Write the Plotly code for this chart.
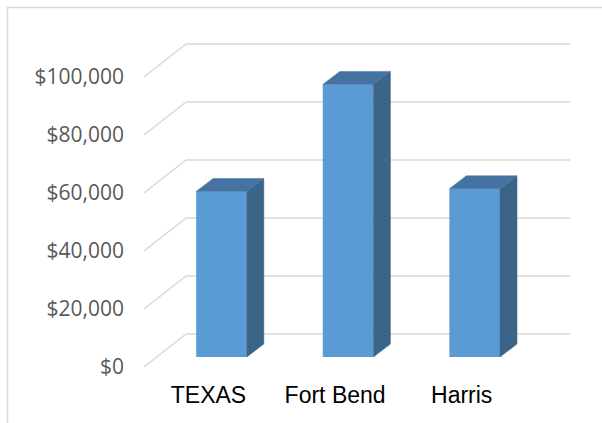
import plotly.graph_objects as go

# ---- data ----
categories = ["TEXAS", "Fort Bend", "Harris"]
values = [57100, 94000, 58000]
tick_values = [0, 20000, 40000, 60000, 80000, 100000]
tick_labels = ["$0", "$20,000", "$40,000", "$60,000", "$80,000", "$100,000"]

# ---- geometry (3D look) ----
W, H = 602, 423
PX_PER_UNIT_Y = 2.90 / 1000.0     # pixels per dollar on the front plane
PX_PER_CAT = 126.6                # pixels per category step
X0_PX = 221.5                     # pixel of category 0 (bar front-face centre)
Y0_PX = 367.0                     # pixel of $0 on the front plane

def dx(px):
    return px / PX_PER_CAT

def dy(px):
    return px / PX_PER_UNIT_Y

x_left_px, x_right_px = 144, 572
y_top_px, y_bot_px = 4.5, 380
x_range = [(x_left_px - X0_PX) / PX_PER_CAT, (x_right_px - X0_PX) / PX_PER_CAT]
y_range = [(Y0_PX - y_bot_px) / PX_PER_UNIT_Y, (Y0_PX - y_top_px) / PX_PER_UNIT_Y]

FULL_DX, FULL_DY = dx(42), dy(33)      # wall depth
FRONT_DX, FRONT_DY = dx(13), dy(10)    # offset of bar front face from front plane
BAR_DX, BAR_DY = dx(17), dy(13)        # bar depth
BAR_W = 0.4
BACK_RIGHT = (570 - X0_PX) / PX_PER_CAT
FRONT_LEFT = x_range[0]

grid_color = "#D9D9D9"
front_col = "#5B9BD5"
top_col = "#4473A1"
side_col = "#3B6489"

fig = go.Figure()

# front faces
fig.add_trace(go.Bar(
    x=list(range(len(categories))), y=values, base=FRONT_DY, width=BAR_W,
    marker=dict(color=front_col, line=dict(width=0)), hoverinfo="skip",
    showlegend=False))

# side and top faces
for i, v in enumerate(values):
    xl, xr = i - BAR_W / 2, i + BAR_W / 2
    yb, yt = FRONT_DY, FRONT_DY + v
    fig.add_trace(go.Scatter(
        x=[xr, xr + BAR_DX, xr + BAR_DX, xr, xr],
        y=[yb, yb + BAR_DY, yt + BAR_DY, yt, yb],
        fill="toself", fillcolor=side_col, mode="lines",
        line=dict(width=0.5, color=side_col), hoverinfo="skip", showlegend=False))
    fig.add_trace(go.Scatter(
        x=[xl, xr, xr + BAR_DX, xl + BAR_DX, xl],
        y=[yt, yt, yt + BAR_DY, yt + BAR_DY, yt],
        fill="toself", fillcolor=top_col, mode="lines",
        line=dict(width=0.5, color=top_col), hoverinfo="skip", showlegend=False))

shapes = []
for t in tick_values:
    # side wall diagonal
    shapes.append(dict(type="line", xref="x", yref="y", layer="below",
                       x0=FRONT_LEFT, y0=t, x1=FRONT_LEFT + FULL_DX, y1=t + FULL_DY,
                       line=dict(color=grid_color, width=1.5)))
    # back wall horizontal
    shapes.append(dict(type="line", xref="x", yref="y", layer="below",
                       x0=FRONT_LEFT + FULL_DX, y0=t + FULL_DY, x1=BACK_RIGHT, y1=t + FULL_DY,
                       line=dict(color=grid_color, width=1.5)))
# chart area border
shapes.append(dict(type="rect", xref="paper", yref="paper", layer="below",
                   x0=7.5 / W, x1=1.2, y0=-0.2, y1=(H - 7.5) / H,
                   line=dict(color=grid_color, width=1.5)))

fig.update_layout(
    width=W, height=H,
    margin=dict(l=0, r=0, t=0, b=0),
    paper_bgcolor="white", plot_bgcolor="rgba(0,0,0,0)",
    shapes=shapes, showlegend=False,
    xaxis=dict(domain=[x_left_px / W, x_right_px / W], range=x_range,
               tickvals=[i - FRONT_DX for i in range(len(categories))],
               ticktext=categories, showgrid=False, zeroline=False,
               showline=False, ticks="", ticklabelstandoff=-1,
               tickfont=dict(family="Liberation Sans, Arial", size=23, color="black"),
               fixedrange=True),
    yaxis=dict(domain=[(H - y_bot_px) / H, (H - y_top_px) / H], range=y_range,
               tickvals=tick_values, ticktext=tick_labels,
               showgrid=False, zeroline=False, showline=False, ticks="",
               ticklabelstandoff=19,
               tickfont=dict(family="Open Sans", size=21, color="#595959"),
               fixedrange=True),
)

fig.write_html("out.html")
